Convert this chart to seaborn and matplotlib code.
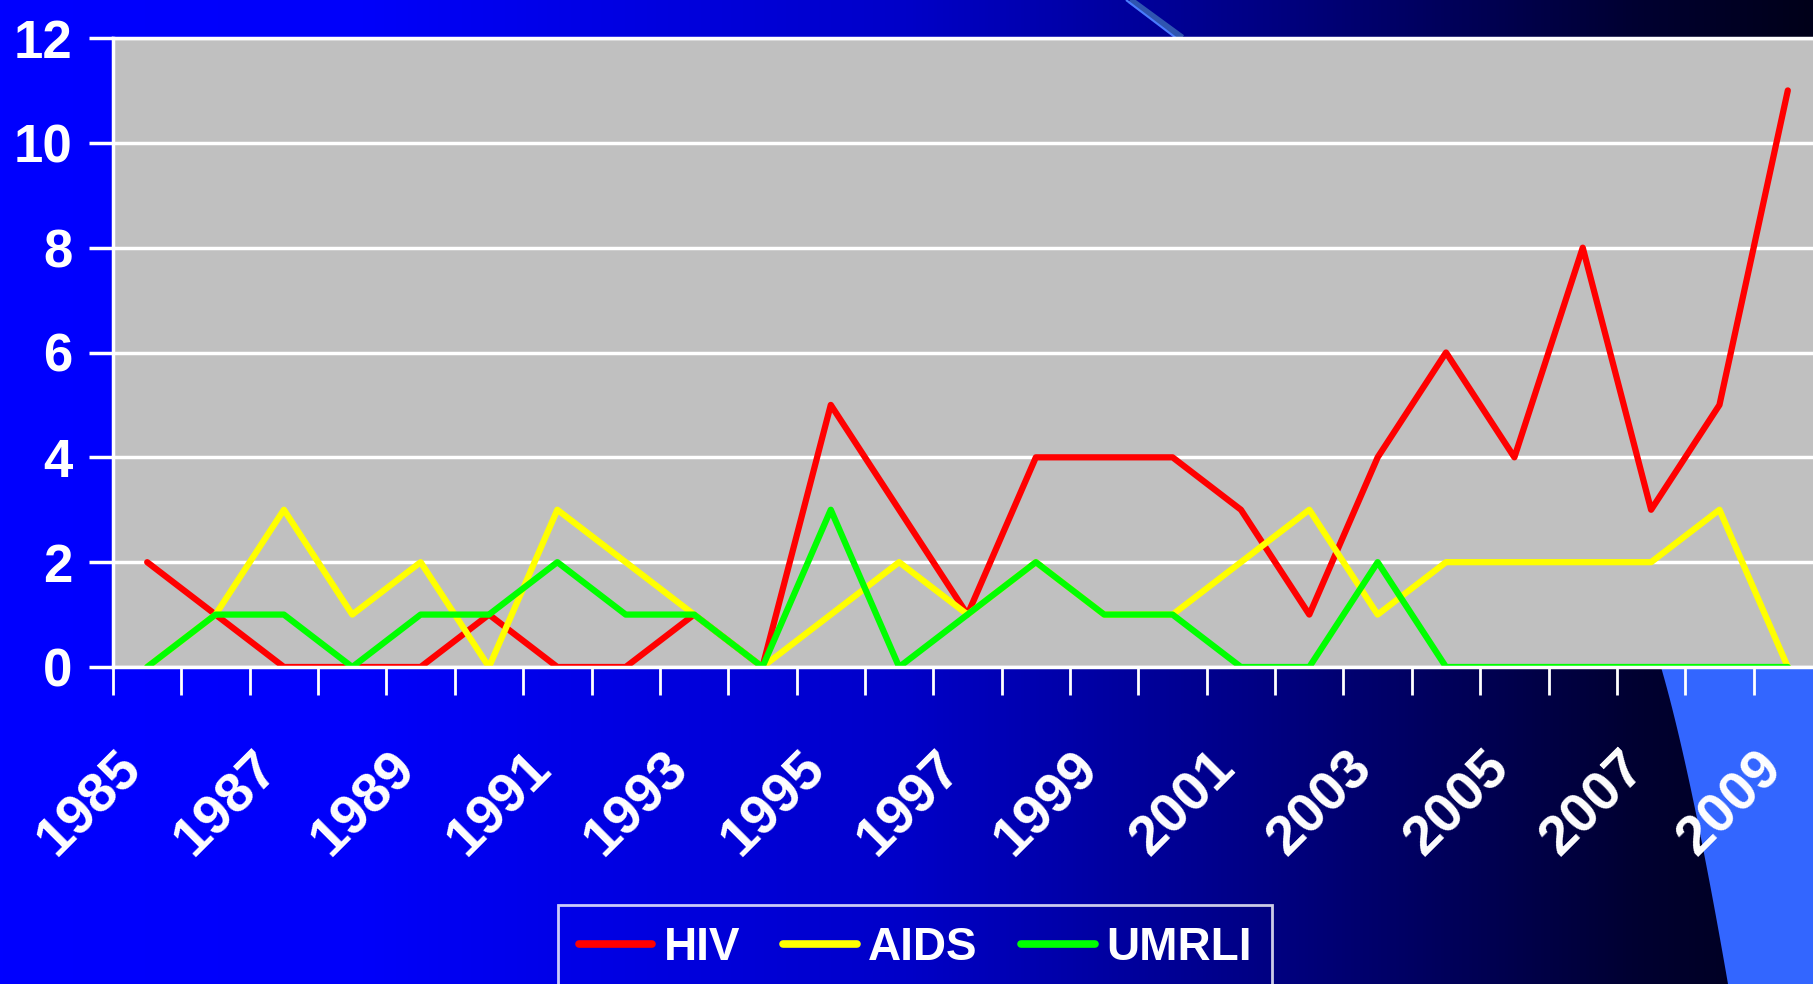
import numpy as np
import pandas as pd
import matplotlib
matplotlib.use("Agg")
import matplotlib.pyplot as plt
import matplotlib.transforms as mtransforms
from matplotlib.lines import Line2D
from matplotlib.patches import Polygon
import seaborn as sns

years = list(range(1985, 2010))
hiv = [2, 1, 0, 0, 0, 1, 0, 0, 1, 0, 5, 3, 1, 4, 4, 4, 3, 1, 4, 6, 4, 8, 3, 5, 11]
aids = [0, 1, 3, 1, 2, 0, 3, 2, 1, 0, 1, 2, 1, 2, 1, 1, 2, 3, 1, 2, 2, 2, 2, 3, 0]
umrli = [0, 1, 1, 0, 1, 1, 2, 1, 1, 0, 3, 0, 1, 2, 1, 1, 0, 0, 2, 0, 0, 0, 0, 0, 0]
series = ["HIV", "AIDS", "UMRLI"]
colors = {"HIV": "#FF0000", "AIDS": "#FFFF00", "UMRLI": "#00FF00"}

df = pd.DataFrame({
    "Year": years * 3,
    "Count": hiv + aids + umrli,
    "Series": ["HIV"] * 25 + ["AIDS"] * 25 + ["UMRLI"] * 25,
})

sns.set_theme(style="white")
plt.rcParams["font.family"] = ["Liberation Sans", "DejaVu Sans"]

W, H = 1813, 984
fig = plt.figure(figsize=(W / 100, H / 100), dpi=100)

# background: blue gradient + light blue decoration
bg = fig.add_axes([0, 0, 1, 1], zorder=0)
bg.set_xlim(0, W)
bg.set_ylim(H, 0)
bg.axis("off")
xs = np.linspace(0, 1, 600)
blue = np.interp(xs, [0, 0.2, 0.5, 0.7, 0.9, 1.0], [255, 250, 200, 130, 50, 25]) / 255
img = np.zeros((2, 600, 3))
img[..., 2] = blue
bg.imshow(img, aspect="auto", extent=[0, W, H, 0])
cy = np.linspace(600, 984, 40)
cx = 1633 + 95 * ((cy - 600) / 384) ** 0.7
bg.add_patch(Polygon(list(zip(cx, cy)) + [(W, 984), (W, 600)],
                     closed=True, color="#3366FF", lw=0))
bg.plot([1130, 1182], [0, 38], color="#2f55b0", lw=5, solid_capstyle="butt")
bg.plot([1126, 1176], [0, 38], color="#4a7bff", lw=1.5, solid_capstyle="butt")

ax = fig.add_axes([113 / W, 1 - 667 / H, (1822 - 113) / W, (667 - 38) / H], zorder=1)
ax.set_facecolor("#C0C0C0")
sns.lineplot(data=df, x="Year", y="Count", hue="Series", hue_order=series,
             palette=colors, linewidth=4.5, errorbar=None, legend=False, ax=ax)

ax.set_xlim(1984.5, 2009.5)
ax.set_ylim(0, 12)
ax.set_xlabel("")
ax.set_ylabel("")

ax.set_yticks(range(0, 13, 2))
ax.set_yticklabels([str(v) for v in range(0, 13, 2)])
ax.yaxis.grid(True, color="white", lw=2.5)
ax.xaxis.grid(False)

ax.set_xticks(np.arange(1984.5, 2010, 1))
ax.set_xticklabels([])
ax.set_xticks(years[::2], minor=True)
ax.set_xticklabels([str(y) for y in years[::2]], minor=True, rotation=45,
                   ha="right", va="top", rotation_mode="anchor")

ax.tick_params(axis="x", which="major", direction="out", length=20, width=2,
               color="white", bottom=True)
ax.tick_params(axis="x", which="minor", length=0, pad=54, labelsize=40,
               labelcolor="white")
ax.tick_params(axis="y", direction="out", length=17, width=2.5, color="white",
               left=True, pad=12, labelsize=38, labelcolor="white")
shift = mtransforms.ScaledTranslation(-32 / 100, 0, fig.dpi_scale_trans)
for lab in ax.get_xticklabels(minor=True):
    lab.set_fontweight("bold")
    lab.set_transform(lab.get_transform() + shift)
for lab in ax.get_yticklabels():
    lab.set_fontweight("bold")

ax.spines["right"].set_visible(False)
for side in ["left", "bottom", "top"]:
    ax.spines[side].set_color("white")
    ax.spines[side].set_linewidth(2.5)

handles = [Line2D([], [], color=colors[s], lw=5.5) for s in series]
leg = fig.legend(handles, series, loc="upper left", bbox_to_anchor=(558 / W, 1 - 905 / H),
                 ncol=3, frameon=True, fancybox=False, fontsize=33,
                 handlelength=1.6, handletextpad=0.25, columnspacing=0.95,
                 borderpad=0.45, borderaxespad=0)
leg.get_frame().set_facecolor("none")
leg.get_frame().set_edgecolor("white")
leg.get_frame().set_linewidth(2)
for t in leg.get_texts():
    t.set_color("white")
    t.set_fontweight("bold")

fig.savefig("out.png", dpi=100)
